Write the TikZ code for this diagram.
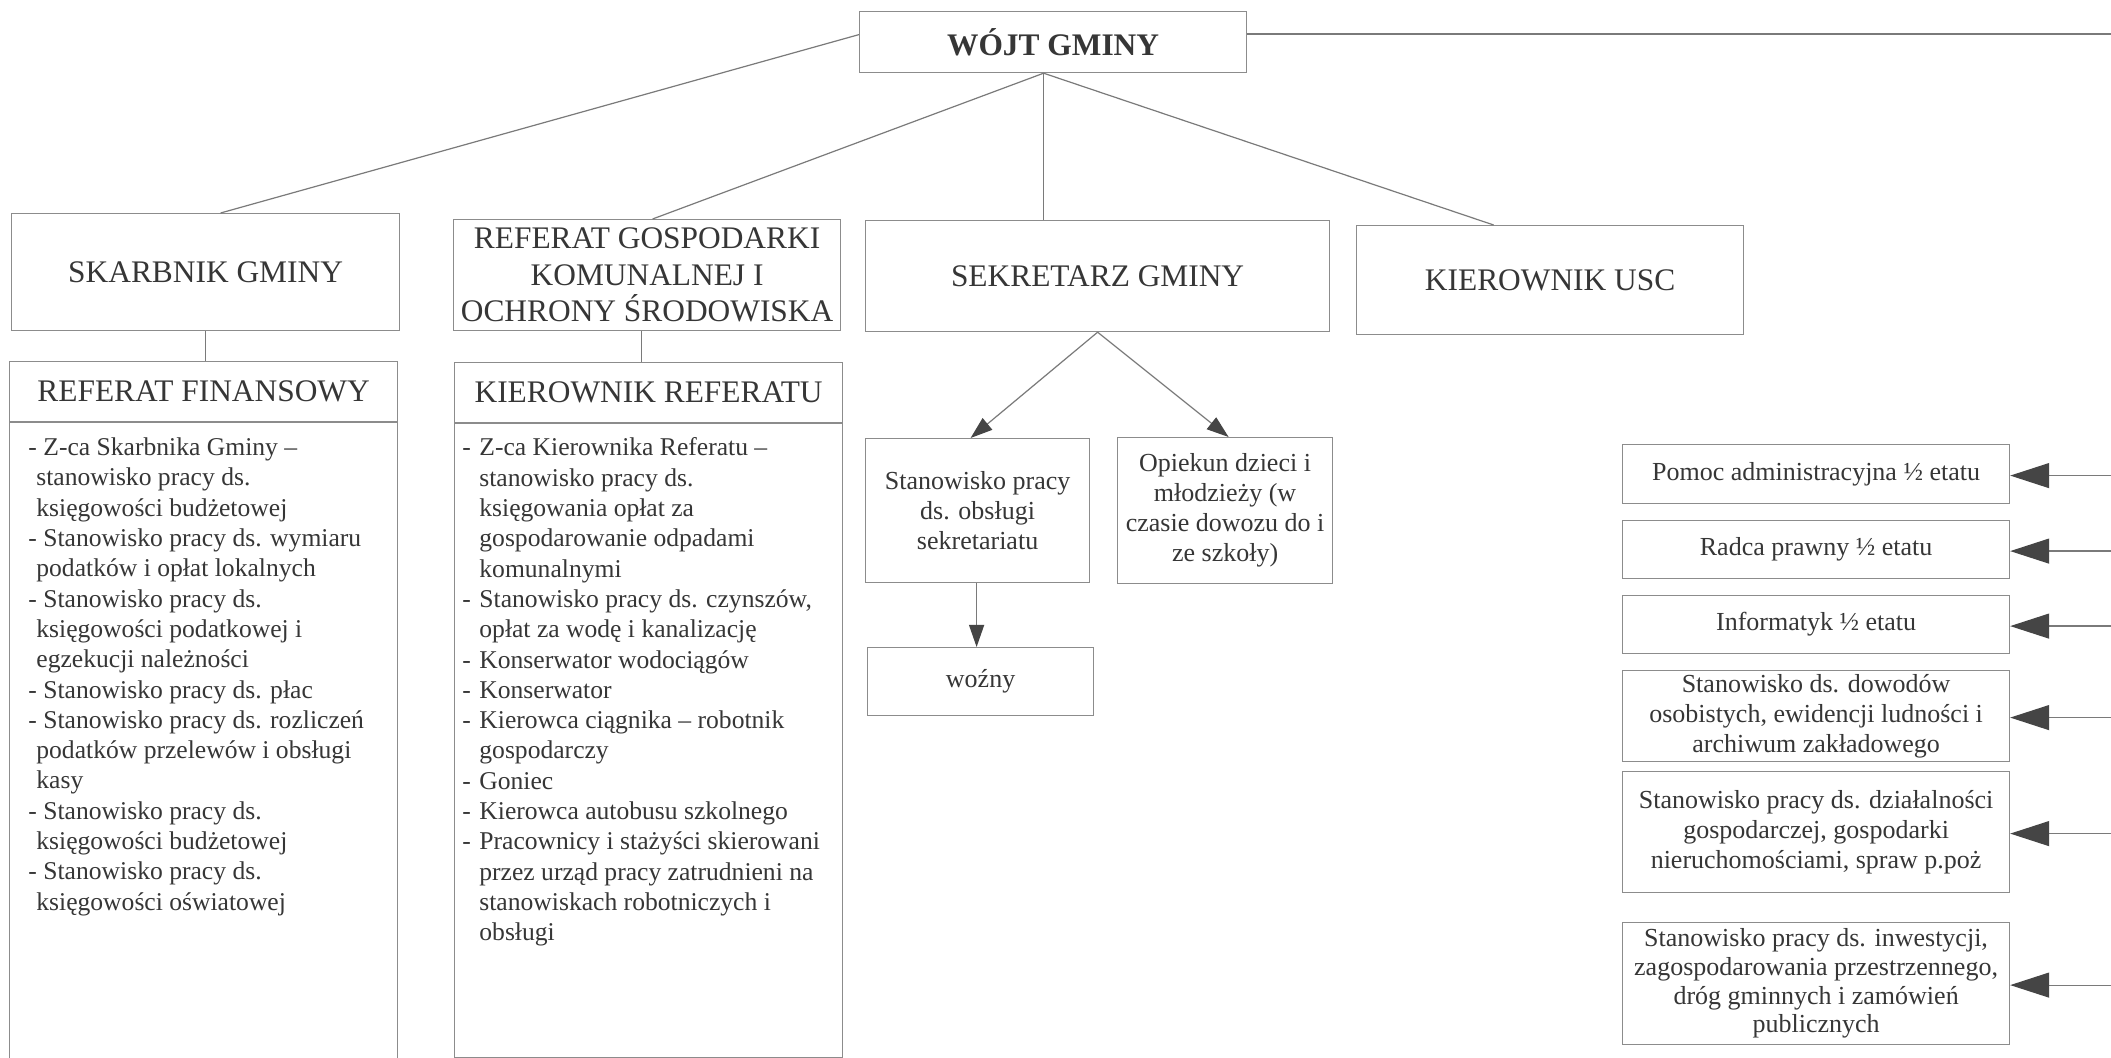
\documentclass[tikz,border=0pt]{standalone}
\usepackage{fontspec}
\setmainfont{Liberation Serif}
\usetikzlibrary{arrows.meta,calc}
\definecolor{txt}{HTML}{363636}
\definecolor{ln}{HTML}{8C8C8C}
\definecolor{con}{HTML}{7A7A7A}
\definecolor{tipc}{HTML}{454545}
\newcommand\rfi{\makebox[7.5pt][l]{-}}
\newcommand\rfc{\hspace*{4pt}}
\newcommand\kri{\makebox[8.5pt][l]{-}}
\newcommand\krc{\hspace*{8.5pt}}
\begin{document}
\begin{tikzpicture}[x=0.5pt,y=-0.5pt,
  box/.style={draw=ln, line width=0.6pt, inner sep=0pt, anchor=north west, align=center, text=txt},
  bigf/.style={font=\fontsize{15.7}{18.2}\selectfont},
  smallf/.style={font=\fontsize{13}{15}\selectfont},
  lst/.style={font=\fontsize{12.8}{15.15}\selectfont, align=left, anchor=north west, inner sep=0pt, text=txt},
  conn/.style={draw=con, line width=0.6pt},
  sarr/.style={conn, -{Triangle[length=11pt,width=7.5pt,color=tipc]}},
  barr/.style={conn, -{Triangle[length=19.5pt,width=12.5pt,color=tipc]}},
]
\useasboundingbox (0,0) rectangle (2111,1058);
\fill[white] (0,0) rectangle (2111,1058);
\clip (0,0) rectangle (2111,1058);
\coordinate (R) at (2111,0);

% top level
\node[box, minimum width=193.5pt, minimum height=30.5pt, font=\fontsize{15.7}{18}\selectfont\bfseries] (wojt) at (859,11) {WÓJT GMINY};

\node[box, bigf, minimum width=194pt, minimum height=58.5pt] (skar) at (11,213) {SKARBNIK GMINY};
\node[box, bigf, minimum width=193.5pt, minimum height=55.5pt] (rg) at (453,219) {REFERAT GOSPODARKI\\KOMUNALNEJ I\\OCHRONY ŚRODOWISKA};
\node[box, bigf, minimum width=232pt, minimum height=55.5pt] (sek) at (865,220) {SEKRETARZ GMINY};
\node[box, bigf, minimum width=193.5pt, minimum height=54.5pt] (kusc) at (1356,225) {KIEROWNIK USC};

% Referat finansowy
\node[box, bigf, minimum width=194pt, minimum height=30pt] (rfh) at (9,361) {REFERAT FINANSOWY};
\node[box, minimum width=194pt, minimum height=330pt] (rfb) at (rfh.south west) {};
\node[lst] (rfl) at (28,437.5) {%
\rfi Z-ca Skarbnika Gminy –\\
\rfc stanowisko pracy ds.\\
\rfc księgowości budżetowej\\
\rfi Stanowisko pracy ds. wymiaru\\
\rfc podatków i opłat lokalnych\\
\rfi Stanowisko pracy ds.\\
\rfc księgowości podatkowej i\\
\rfc egzekucji należności\\
\rfi Stanowisko pracy ds. płac\\
\rfi Stanowisko pracy ds. rozliczeń\\
\rfc podatków przelewów i obsługi\\
\rfc kasy\\
\rfi Stanowisko pracy ds.\\
\rfc księgowości budżetowej\\
\rfi Stanowisko pracy ds.\\
\rfc księgowości oświatowej};

% Kierownik referatu
\node[box, bigf, minimum width=194pt, minimum height=30pt] (krh) at (454,362) {KIEROWNIK REFERATU};
\node[box, minimum width=194pt, minimum height=317pt] (krb) at (krh.south west) {};
\node[lst] (krl) at (462,437.5) {%
\kri Z-ca Kierownika Referatu –\\
\krc stanowisko pracy ds.\\
\krc księgowania opłat za\\
\krc gospodarowanie odpadami\\
\krc komunalnymi\\
\kri Stanowisko pracy ds. czynszów,\\
\krc opłat za wodę i kanalizację\\
\kri Konserwator wodociągów\\
\kri Konserwator\\
\kri Kierowca ciągnika – robotnik\\
\krc gospodarczy\\
\kri Goniec\\
\kri Kierowca autobusu szkolnego\\
\kri Pracownicy i stażyści skierowani\\
\krc przez urząd pracy zatrudnieni na\\
\krc stanowiskach robotniczych i\\
\krc obsługi};

% Sekretarz subordinates
\node[box, smallf, minimum width=112pt, minimum height=72pt] (obs) at (865,438) {Stanowisko pracy\\ds. obsługi\\sekretariatu};
\node[box, smallf, minimum width=107.5pt, minimum height=73pt] (opi) at (1117,437) {Opiekun dzieci i\\młodzieży (w\\czasie dowozu do i\\ze szkoły)};
\node[box, smallf, minimum width=113pt, minimum height=34pt] (woz) at (867,647) {woźny};

% right column
\node[box, smallf, minimum width=193.5pt, minimum height=29.5pt] (pomoc) at (1622,444) {Pomoc administracyjna ½ etatu};
\node[box, smallf, minimum width=193.5pt, minimum height=29pt] (radca) at (1622,520) {Radca prawny ½ etatu};
\node[box, smallf, minimum width=193.5pt, minimum height=29pt] (info) at (1622,595) {Informatyk ½ etatu};
\node[box, smallf, minimum width=193.5pt, minimum height=45.5pt] (dow) at (1622,670) {Stanowisko ds. dowodów\\osobistych, ewidencji ludności i\\archiwum zakładowego};
\node[box, smallf, minimum width=193.5pt, minimum height=60.5pt] (dzia) at (1622,771) {Stanowisko pracy ds. działalności\\gospodarczej, gospodarki\\nieruchomościami, spraw p.poż};
\node[box, font=\fontsize{13}{14.3}\selectfont, minimum width=193.5pt, minimum height=61pt] (inw) at (1622,922) {Stanowisko pracy ds. inwestycji,\\zagospodarowania przestrzennego,\\dróg gminnych i zamówień\\publicznych};

% connectors from WÓJT
\coordinate (wb) at ([xshift=-4.75pt]wojt.south);
\draw[conn] ([yshift=3.75pt]wojt.west) -- ([xshift=7.5pt]skar.north);
\draw[conn] (wb) -- ([xshift=2.75pt]rg.north);
\draw[conn] (wb) -- (wb |- sek.north);
\draw[conn] (wb) -- ([xshift=-28.25pt]kusc.north);
\draw[conn] ([yshift=4pt]wojt.east) -- ([yshift=4pt]wojt.east -| R);

\draw[conn] (skar.south) -- (skar.south |- rfh.north);
\draw[conn] ([xshift=-2.75pt]rg.south) -- ([xshift=-2.75pt]rg.south |- krh.north);

% Sekretarz arrows
\draw[sarr] (sek.south) -- ([xshift=-3.5pt]obs.north);
\draw[sarr] (sek.south) -- ([xshift=1.75pt]opi.north);
\draw[sarr] ([xshift=-0.5pt]obs.south) -- ([xshift=-0.5pt]obs.south |- woz.north);

% right arrows
\foreach \b in {pomoc,radca,info,dow,dzia,inw}{
  \draw[barr] ([yshift=-0.75pt]\b.east -| R) -- ([yshift=-0.75pt]\b.east);
}
\end{tikzpicture}
\end{document}
